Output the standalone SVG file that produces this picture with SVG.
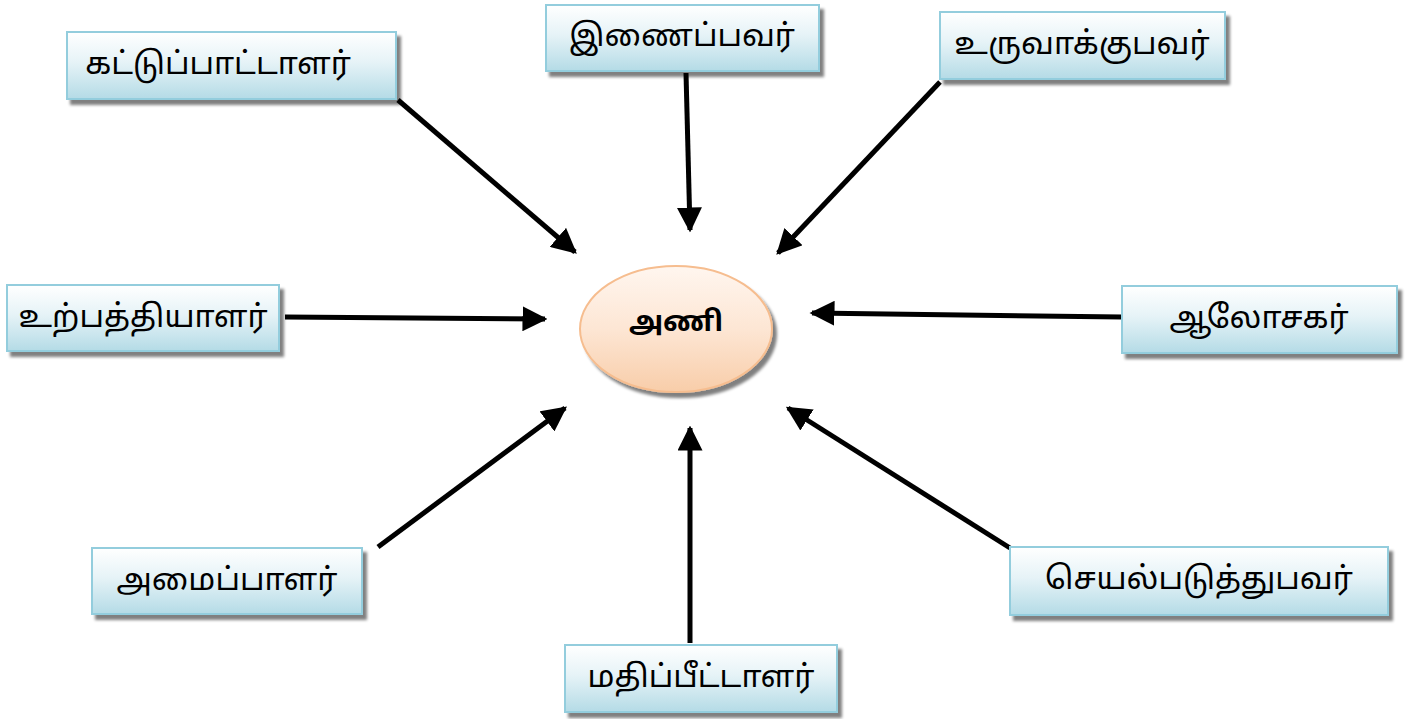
<svg xmlns="http://www.w3.org/2000/svg" width="1425" height="719" viewBox="0 0 1425 719">
  <defs>
    <linearGradient id="boxFill" x1="0" y1="0" x2="0" y2="1">
      <stop offset="0" stop-color="#ffffff"/>
      <stop offset="0.45" stop-color="#e6f3f7"/>
      <stop offset="1" stop-color="#b4dbe6"/>
    </linearGradient>
    <linearGradient id="ovalFill" x1="0" y1="0" x2="0" y2="1">
      <stop offset="0" stop-color="#fff6ef"/>
      <stop offset="0.5" stop-color="#fde6d4"/>
      <stop offset="1" stop-color="#f8cda9"/>
    </linearGradient>
    <filter id="shadow" x="-10%" y="-20%" width="130%" height="150%">
      <feGaussianBlur in="SourceAlpha" stdDeviation="1.5"/>
      <feOffset dx="4" dy="5" result="b"/>
      <feComponentTransfer><feFuncA type="linear" slope="0.5"/></feComponentTransfer>
      <feMerge><feMergeNode/><feMergeNode in="SourceGraphic"/></feMerge>
    </filter>
    <marker id="arrow" viewBox="0 0 10 10" refX="9" refY="5" markerWidth="5" markerHeight="5" orient="auto" markerUnits="strokeWidth">
      <path d="M0,0 L10,5 L0,10 z" fill="#000"/>
    </marker>
  </defs>
  <style>
    .box { fill: url(#boxFill); stroke: #93cddd; stroke-width: 2; filter: url(#shadow); }
    .label { font-family: "Noto Sans Tamil", "Lohit Tamil", "Liberation Sans", sans-serif; font-size: 31.5px; fill: #000; text-anchor: middle; dominant-baseline: central; }
    .centre { font-family: "Noto Sans Tamil", "Lohit Tamil", "Liberation Sans", sans-serif; font-size: 28px; font-weight: bold; fill: #000; text-anchor: middle; dominant-baseline: central; }
    .link { stroke: #000; stroke-width: 5; fill: none; marker-end: url(#arrow); }
  </style>

  <g id="connectors">
    <line class="link" x1="398" y1="100" x2="575" y2="252"/>
    <line class="link" x1="686" y1="73" x2="690" y2="230"/>
    <line class="link" x1="940" y1="82" x2="778" y2="253"/>
    <line class="link" x1="285" y1="317" x2="545" y2="319"/>
    <line class="link" x1="1122" y1="317" x2="812" y2="313"/>
    <line class="link" x1="378" y1="547" x2="565" y2="408"/>
    <line class="link" x1="690" y1="643" x2="690" y2="428"/>
    <line class="link" x1="1010" y1="548" x2="788" y2="408"/>
  </g>

  <g id="team">
    <ellipse cx="676" cy="329" rx="96" ry="63" fill="url(#ovalFill)" stroke="#f6bd8f" stroke-width="2" filter="url(#shadow)"/>
    <text class="centre" x="676" y="324">அணி</text>
  </g>

  <g id="controller">
    <rect class="box" x="67" y="32" width="329" height="67"/>
    <text class="label" x="218" y="66">கட்டுப்பாட்டாளர்</text>
  </g>
  <g id="integrator">
    <rect class="box" x="546" y="5" width="273" height="66"/>
    <text class="label" x="682" y="38">இணைப்பவர்</text>
  </g>
  <g id="creator">
    <rect class="box" x="940" y="12" width="285" height="67"/>
    <text class="label" x="1082" y="46">உருவாக்குபவர்</text>
  </g>
  <g id="producer">
    <rect class="box" x="7" y="285" width="272" height="66"/>
    <text class="label" x="143" y="319">உற்பத்தியாளர்</text>
  </g>
  <g id="advisor">
    <rect class="box" x="1122" y="286" width="275" height="67"/>
    <text class="label" x="1259" y="320">ஆலோசகர்</text>
  </g>
  <g id="organiser">
    <rect class="box" x="92" y="548" width="270" height="66"/>
    <text class="label" x="227" y="582">அமைப்பாளர்</text>
  </g>
  <g id="implementer">
    <rect class="box" x="1010" y="547" width="378" height="68"/>
    <text class="label" x="1199" y="581">செயல்படுத்துபவர்</text>
  </g>
  <g id="evaluator">
    <rect class="box" x="565" y="645" width="272" height="67"/>
    <text class="label" x="701" y="679">மதிப்பீட்டாளர்</text>
  </g>
</svg>
